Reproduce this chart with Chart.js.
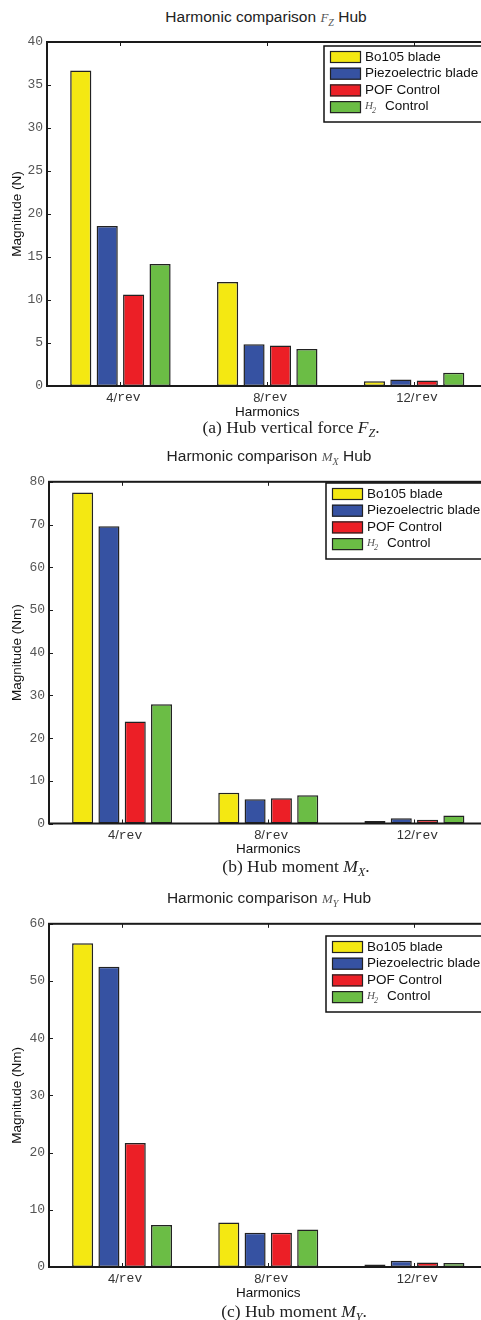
<!DOCTYPE html>
<html>
<head>
<meta charset="utf-8">
<script src="https://cdn.jsdelivr.net/npm/chart.js@4.4.1/dist/chart.umd.min.js"></script>
<style>
  body { margin: 0; width: 481px; height: 1320px; overflow: hidden; background: #fff; position: relative; }
  canvas { position: absolute; left: 0; }
  .ttl { position: absolute; transform: translate(-50%, -50%); white-space: nowrap;
         font: 15.5px "Liberation Sans", Arial, sans-serif; color: #222; }
  .ttl .sym { font: italic 13px "Liberation Serif", serif; color: #555; }
  .ttl .sym sub { font-size: 10px; }
  .cap { position: absolute; transform: translate(-50%, -50%); white-space: nowrap;
         font: 17.5px "Liberation Serif", "Times New Roman", serif; color: #222; }
  .cap sub { font-size: 12px; font-style: italic; }
</style>
</head>
<body>
<div class="ttl" style="left:266px; top:18px">Harmonic comparison <span class="sym">F<sub>Z</sub></span> Hub</div>
<canvas id="fzChart" width="492" height="392" style="top:30px"></canvas>
<div class="cap" style="left:291px; top:429px">(a) Hub vertical force <i>F</i><sub>Z</sub>.</div>

<div class="ttl" style="left:269px; top:457px">Harmonic comparison <span class="sym">M<sub>X</sub></span> Hub</div>
<canvas id="mxChart" width="492" height="390" style="top:470px"></canvas>
<div class="cap" style="left:296px; top:868px">(b) Hub moment <i>M</i><sub>X</sub>.</div>

<div class="ttl" style="left:269px; top:899px">Harmonic comparison <span class="sym">M<sub>Y</sub></span> Hub</div>
<canvas id="myChart" width="492" height="390" style="top:912px"></canvas>
<div class="cap" style="left:294px; top:1313px">(c) Hub moment <i>M</i><sub>Y</sub>.</div>

<script>
const harmonics = ["4/rev", "8/rev", "12/rev"];
const seriesNames = ["Bo105 blade", "Piezoelectric blade", "POF Control", "H2 Control"];
const seriesColors = ["#f4e812", "#3652a2", "#ec1f26", "#6bbd45"];

// Hub vertical force Fz (N)
const fzBo105 = [36.7, 12.1, 0.55];
const fzPiezo = [18.6, 4.85, 0.75];
const fzPof = [10.65, 4.7, 0.65];
const fzH2 = [14.2, 4.3, 1.55];
const fzTicks = [0, 5, 10, 15, 20, 25, 30, 35, 40];

// Hub moment Mx (Nm)
const mxBo105 = [77.5, 7.2, 0.6];
const mxPiezo = [69.6, 5.7, 1.2];
const mxPof = [23.9, 5.9, 0.9];
const mxH2 = [27.9, 6.6, 1.9];
const mxTicks = [0, 10, 20, 30, 40, 50, 60, 70, 80];

// Hub moment My (Nm)
const myBo105 = [56.6, 7.8, 0.45];
const myPiezo = [52.5, 6.0, 1.1];
const myPof = [21.7, 6.0, 0.8];
const myH2 = [7.35, 6.55, 0.7];
const myTicks = [0, 10, 20, 30, 40, 50, 60];

// matlab style box, inward ticks, mixed-font x labels and boxed legend
const matlabAxes = {
  id: "matlabAxes",
  afterDatasetsDraw(chart, args, opts) {
    const { ctx, chartArea: a, scales: { x, y } } = chart;
    ctx.save();
    ctx.strokeStyle = "#1a1a1a";
    ctx.lineWidth = 1;
    ctx.beginPath();
    y.ticks.forEach(t => {
      const py = Math.round(y.getPixelForValue(t.value)) + 0.5;
      ctx.moveTo(a.left, py); ctx.lineTo(a.left + 4, py);
      ctx.moveTo(a.right, py); ctx.lineTo(a.right - 4, py);
    });
    x.ticks.forEach((t, i) => {
      const px = Math.round(x.getPixelForTick(i)) + 0.5;
      ctx.moveTo(px, a.top); ctx.lineTo(px, a.top + 4);
      ctx.moveTo(px, a.bottom); ctx.lineTo(px, a.bottom - 4);
    });
    ctx.stroke();
    ctx.lineWidth = 2;
    ctx.strokeRect(a.left, a.top, a.right - a.left, a.bottom - a.top);

    // x tick labels: number in sans, "rev" in mono
    ctx.textBaseline = "middle";
    ctx.fillStyle = "#333";
    x.ticks.forEach((t, i) => {
      const parts = chart.data.labels[i].split("/");
      const num = parts[0] + "/";
      ctx.font = '13px "Liberation Sans"';
      const w1 = ctx.measureText(num).width;
      ctx.font = '13px "Liberation Mono"';
      const w2 = ctx.measureText(parts[1]).width;
      const x0 = x.getPixelForTick(i) + 3 - (w1 + w2) / 2;
      ctx.textAlign = "left";
      ctx.font = '13px "Liberation Sans"';
      ctx.fillText(num, x0, a.bottom + 12);
      ctx.font = '13px "Liberation Mono"';
      ctx.fillText(parts[1], x0 + w1, a.bottom + 12);
    });
    ctx.textAlign = "center";
    ctx.fillStyle = "#111";
    ctx.font = '13.5px "Liberation Sans"';
    ctx.fillText("Harmonics", (a.left + a.right) / 2, a.bottom + 26);

    // legend
    const lx = opts.legendX, ly = opts.legendY;
    ctx.fillStyle = "#fff";
    ctx.fillRect(lx, ly, 170, 76);
    ctx.lineWidth = 1.5;
    ctx.strokeStyle = "#111";
    ctx.strokeRect(lx, ly, 170, 76);
    chart.data.datasets.forEach((ds, i) => {
      const cy = ly + 11 + i * 16.7;
      ctx.fillStyle = ds.backgroundColor;
      ctx.fillRect(lx + 6, cy - 6, 31, 12);
      ctx.lineWidth = 1.2;
      ctx.strokeStyle = "#222";
      ctx.strokeRect(lx + 6.5, cy - 5.5, 30, 11);
      ctx.fillStyle = "#111";
      ctx.textAlign = "left";
      if (ds.label === "H2 Control") {
        ctx.font = 'italic 11px "Liberation Serif"';
        ctx.fillStyle = "#555";
        ctx.fillText("H", lx + 41, cy - 1);
        ctx.font = 'italic 8px "Liberation Serif"';
        ctx.fillText("2", lx + 48, cy + 4);
        ctx.fillStyle = "#111";
        ctx.font = '13.5px "Liberation Sans"';
        ctx.fillText("Control", lx + 61, cy - 1);
      } else {
        ctx.font = '13.5px "Liberation Sans"';
        ctx.fillText(ds.label, lx + 41, cy);
      }
    });
    ctx.restore();
  }
};

function makeChart(id, series, ticks, yLabel, layout) {
  const ctx = document.getElementById(id).getContext("2d");
  return new Chart(ctx, {
    type: "bar",
    data: {
      labels: harmonics,
      datasets: series.map((values, i) => ({
        label: seriesNames[i],
        data: values,
        backgroundColor: seriesColors[i],
        borderColor: "#222",
        borderWidth: 1.5,
        borderSkipped: false,
        categoryPercentage: 0.72,
        barPercentage: 0.8,
      })),
    },
    options: {
      responsive: false,
      animation: false,
      devicePixelRatio: 1,
      layout: { padding: { top: layout.padTop, right: 4.5, left: 0, bottom: 0 } },
      plugins: {
        legend: { display: false },
        tooltip: { enabled: false },
        matlabAxes: { legendX: layout.legendX, legendY: layout.legendY },
      },
      scales: {
        x: {
          grid: { display: false, drawTicks: false },
          border: { display: false },
          ticks: { display: false },
          afterFit: s => { s.height = layout.xAxisH; },
        },
        y: {
          min: ticks[0],
          max: ticks[ticks.length - 1],
          afterBuildTicks: s => { s.ticks = ticks.map(v => ({ value: v })); },
          grid: { display: false, drawTicks: false },
          border: { display: false },
          ticks: {
            color: "#555",
            padding: 4,
            font: { family: "Liberation Mono", size: 13 },
          },
          title: {
            display: true,
            text: yLabel,
            color: "#111",
            font: { family: "Liberation Sans", size: 13.5 },
            padding: { top: 9, bottom: 0 },
          },
          afterFit: s => { s.width = layout.yAxisW; },
        },
      },
    },
    plugins: [matlabAxes],
  });
}

makeChart("fzChart", [fzBo105, fzPiezo, fzPof, fzH2], fzTicks, "Magnitude (N)",
  { padTop: 12, xAxisH: 36, yAxisW: 47, legendX: 324, legendY: 16 });
makeChart("mxChart", [mxBo105, mxPiezo, mxPof, mxH2], mxTicks, "Magnitude (Nm)",
  { padTop: 9, xAxisH: 36.5, yAxisW: 49, legendX: 326, legendY: 13 });
makeChart("myChart", [myBo105, myPiezo, myPof, myH2], myTicks, "Magnitude (Nm)",
  { padTop: 9.5, xAxisH: 35, yAxisW: 49, legendX: 326, legendY: 24 });
</script>
</body>
</html>
